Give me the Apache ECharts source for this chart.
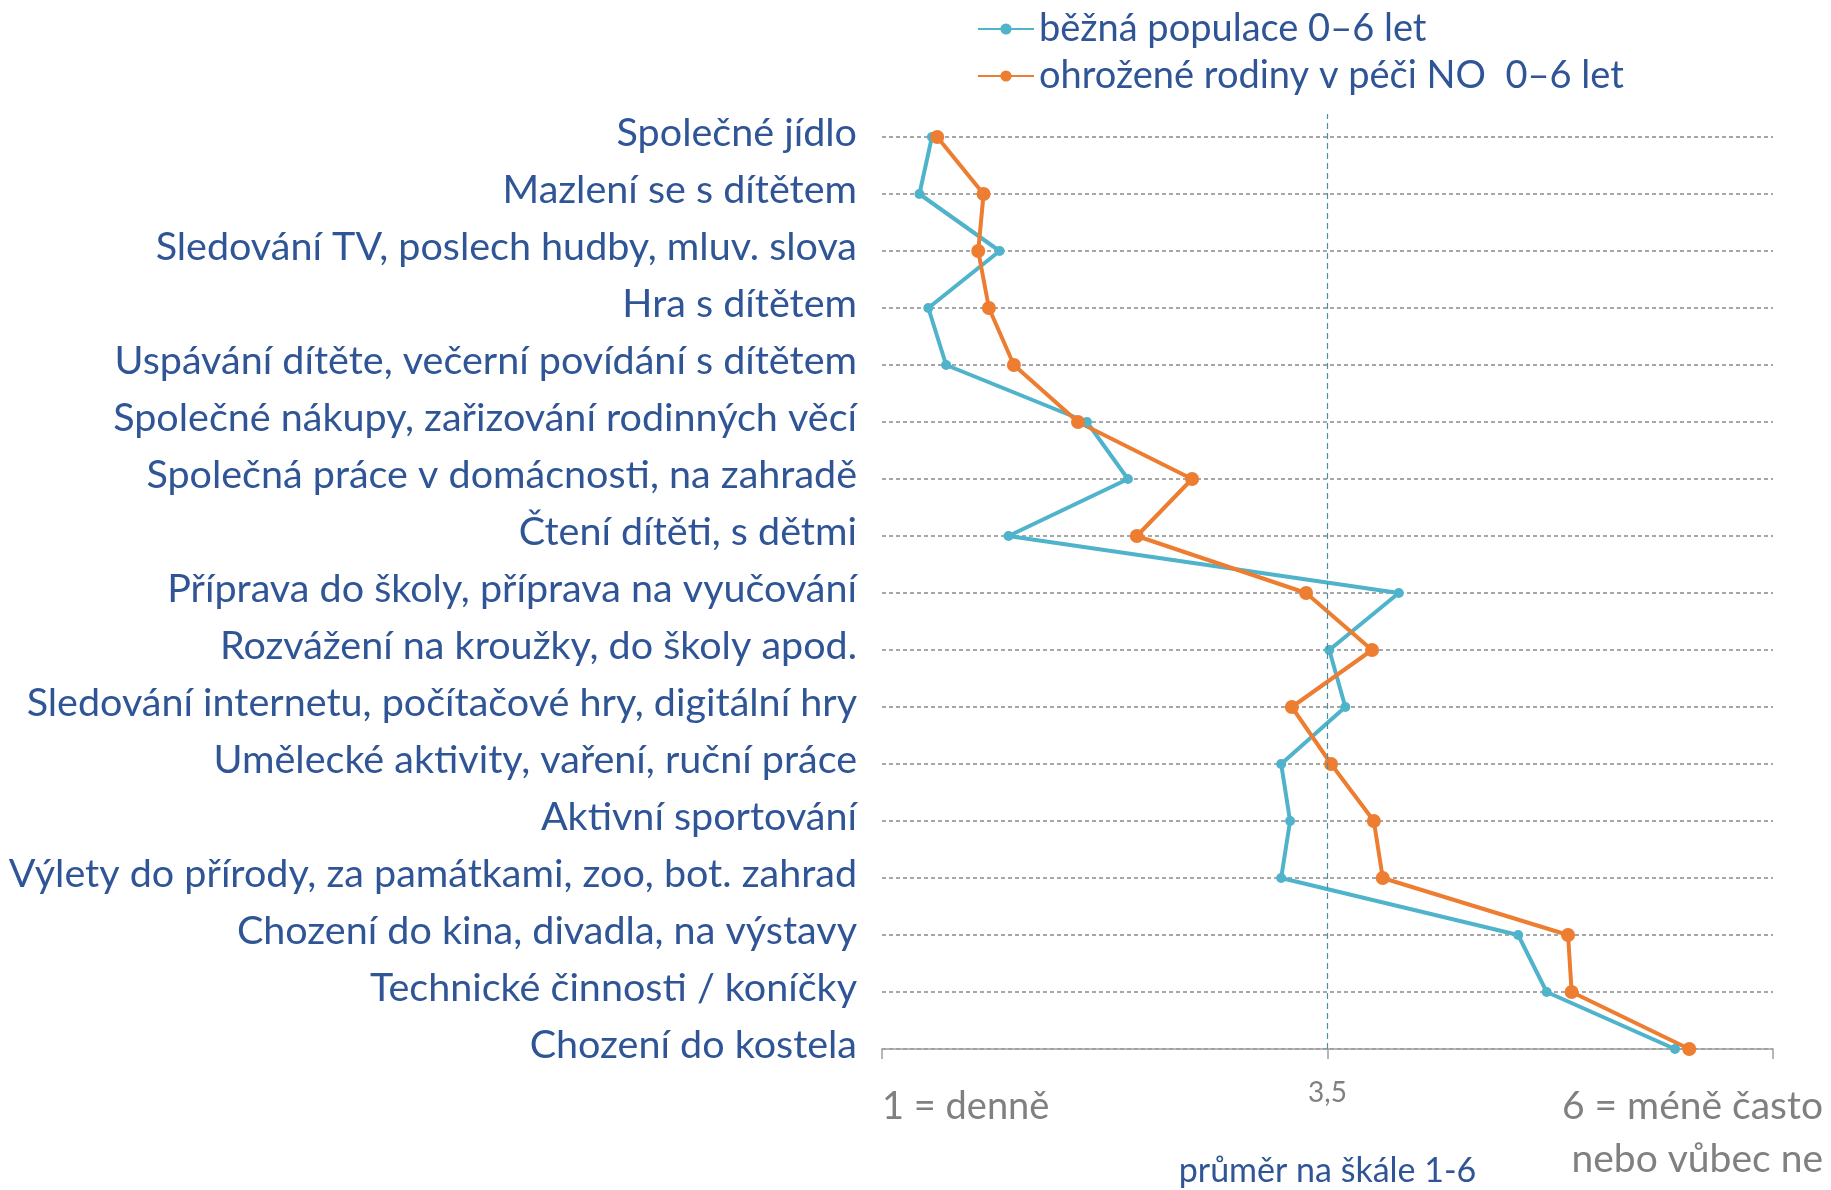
<!DOCTYPE html>
<html>
<head>
<meta charset="utf-8">
<script src="https://cdn.jsdelivr.net/npm/echarts@6/dist/echarts.min.js"></script>
<style>
  html, body { margin: 0; padding: 0; background: #fff; }
  #chart { width: 1831px; height: 1190px; }
</style>
</head>
<body>
<div id="chart"></div>
<script>
// kategorie (shora dolu)
var categories = [
    'Společné jídlo',
    'Mazlení se s dítětem',
    'Sledování TV, poslech hudby, mluv. slova',
    'Hra s dítětem',
    'Uspávání dítěte, večerní povídání s dítětem',
    'Společné nákupy, zařizování rodinných věcí',
    'Společná práce v domácnosti, na zahradě',
    'Čtení dítěti, s dětmi',
    'Příprava do školy, příprava na vyučování',
    'Rozvážení na kroužky, do školy apod.',
    'Sledování internetu, počítačové hry, digitální hry',
    'Umělecké aktivity, vaření, ruční práce',
    'Aktivní sportování',
    'Výlety do přírody, za památkami, zoo, bot. zahrad',
    'Chození do kina, divadla, na výstavy',
    'Technické činnosti / koníčky',
    'Chození do kostela'
];
var seriesNames = ['běžná populace 0–6 let', 'ohrožené rodiny v péči NO  0–6 let'];
var bezna =    [1.28, 1.21, 1.66, 1.26, 1.36, 2.15, 2.38, 1.71, 3.90, 3.51, 3.60, 3.24, 3.29, 3.24, 4.57, 4.73, 5.45];
var ohrozene = [1.31, 1.57, 1.54, 1.60, 1.74, 2.10, 2.74, 2.43, 3.38, 3.75, 3.30, 3.52, 3.76, 3.81, 4.85, 4.87, 5.53];
var tickValues = [1, 3.5, 6];
var tickLabels = ['1 = denně', '3,5', '6 = méně často\nnebo vůbec ne'];
var prumer = 3.5;

var blueText = '#2F5597';
var grayText = '#808080';
var font = 'Lato';

var myChart = echarts.init(document.getElementById('chart'));
var option = {
    animation: false,
    textStyle: { fontFamily: font },
    legend: {
        orient: 'vertical',
        left: 972,
        top: 1,
        itemWidth: 56,
        itemHeight: 14,
        itemGap: 1,
        data: seriesNames,
        textStyle: { fontSize: 38, color: blueText, lineHeight: 46, fontFamily: font }
    },
    grid: [
        { left: 882, right: 58, top: 137, bottom: 141, outerBoundsMode: 'none' },
        // pomocny grid pro prerusovanou caru 3,5 (saha vys nez prvni radek)
        { left: 882, right: 58, top: 114, bottom: 141, outerBoundsMode: 'none' }
    ],
    xAxis: [
        {
            type: 'value',
            gridIndex: 0,
            min: 1,
            max: 6,
            name: 'průměr na škále 1-6',
            nameLocation: 'middle',
            nameGap: 102,
            nameMoveOverlap: false,
            nameTextStyle: { fontSize: 34, color: blueText, lineHeight: 40, fontFamily: font },
            axisLine: { show: true, lineStyle: { color: '#a0a0a0', width: 1.5 } },
            axisTick: { show: true, length: 10, customValues: tickValues, lineStyle: { color: '#a0a0a0', width: 1.5 } },
            splitLine: { show: false },
            axisLabel: {
                customValues: tickValues,
                margin: 31,
                alignMinLabel: 'left',
                alignMaxLabel: 'right',
                formatter: function (v) {
                    var i = tickValues.indexOf(v);
                    if (i === 0) return '{a|' + tickLabels[0] + '}';
                    if (i === 1) return '{b|' + tickLabels[1] + '}';
                    return tickLabels[2].split('\n').map(function (s) { return '{c|' + s + '}'; }).join('\n');
                },
                rich: {
                    a: { fontSize: 38, color: grayText, lineHeight: 53, fontFamily: font },
                    b: { fontSize: 28, color: grayText, lineHeight: 26, fontFamily: font },
                    c: { fontSize: 39, color: grayText, lineHeight: 53, fontFamily: font, padding: [0, -50, 0, 0], align: 'right' }
                }
            }
        },
        { type: 'value', gridIndex: 1, min: 1, max: 6, show: false }
    ],
    yAxis: [
        {
            type: 'category',
            gridIndex: 0,
            data: categories,
            inverse: true,
            boundaryGap: false,
            axisLine: { show: false },
            axisTick: { show: false },
            axisLabel: { fontSize: 39.5, color: blueText, margin: 25, lineHeight: 8, verticalAlign: 'bottom', fontFamily: font },
            splitLine: { show: true, lineStyle: { color: '#8a8a8a', type: [4, 3], width: 1.5 } }
        },
        { type: 'value', gridIndex: 1, min: 0, max: 1, show: false }
    ],
    series: [
        {
            name: 'průměr',
            type: 'line',
            xAxisIndex: 1,
            yAxisIndex: 1,
            data: [],
            silent: true,
            markLine: {
                symbol: 'none',
                silent: true,
                label: { show: false },
                lineStyle: { color: '#4A8FA3', type: [6, 4], width: 1.2 },
                data: [{ xAxis: prumer }]
            }
        },
        {
            name: seriesNames[0],
            type: 'line',
            data: bezna,
            symbol: 'circle',
            symbolSize: 10,
            color: '#4FB3CB',
            lineStyle: { width: 4, color: '#4FB3CB' },
            itemStyle: { color: '#4FB3CB' }
        },
        {
            name: seriesNames[1],
            type: 'line',
            data: ohrozene,
            symbol: 'circle',
            symbolSize: 14,
            color: '#ED7D31',
            lineStyle: { width: 4, color: '#ED7D31' },
            itemStyle: { color: '#ED7D31' }
        }
    ]
};
// hodnoty na ose x, kategorie na ose y
option.series[1].data = bezna.map(function (v, i) { return [v, categories[i]]; });
option.series[2].data = ohrozene.map(function (v, i) { return [v, categories[i]]; });
myChart.setOption(option);
</script>
</body>
</html>
